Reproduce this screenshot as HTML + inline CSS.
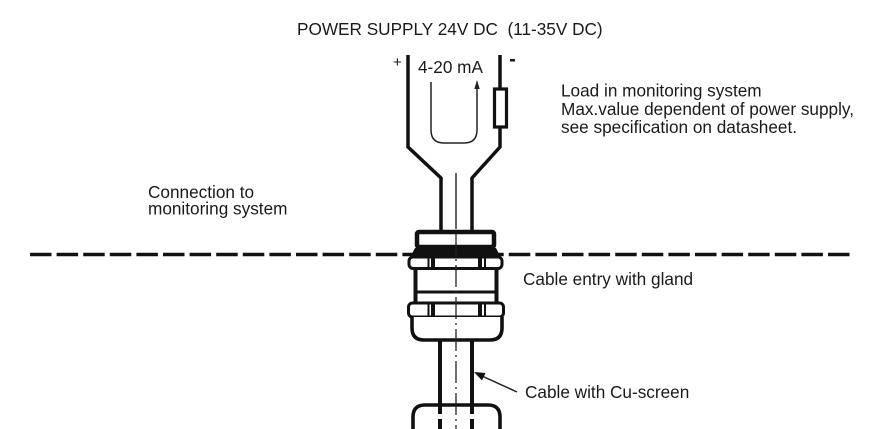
<!DOCTYPE html>
<html>
<head>
<meta charset="utf-8">
<style>
html,body{margin:0;padding:0;background:#fff;}
svg{display:block;}
text{font-family:"Liberation Sans",Arial,sans-serif;fill:#1a1a1a;}
</style>
</head>
<body>
<svg width="875" height="429" viewBox="0 0 875 429" xmlns="http://www.w3.org/2000/svg">
  <rect width="875" height="429" fill="#fff"/>

  <!-- Title -->
  <text x="297" y="35" font-size="17.2">POWER SUPPLY 24V DC &#160;(11-35V DC)</text>

  <!-- + / - -->
  <text x="393" y="67" font-size="15">+</text>
  <rect x="510" y="59" width="5" height="2.5" fill="#1a1a1a"/>

  <!-- 4-20 mA -->
  <text x="418" y="73" font-size="17.2">4-20 mA</text>

  <!-- Wires -->
  <g fill="none" stroke="#111" stroke-width="3.5" stroke-linejoin="miter">
    <path d="M408,55 V147 L441,178 V231"/>
    <path d="M500,55 V89"/>
    <path d="M500,127 V147 L472,178 V231"/>
  </g>
  <!-- Resistor -->
  <rect x="494.5" y="89" width="12" height="38" fill="#fff" stroke="#111" stroke-width="3.2"/>

  <!-- Current loop -->
  <path d="M431,82 V130 Q431,143 444,143 H464 Q477,143 477,130 V87" fill="none" stroke="#222" stroke-width="1.5"/>
  <polygon points="477,80 474.3,89 479.7,89" fill="#222"/>

  <!-- Centre line (upper) -->
  <line x1="456" y1="173" x2="456" y2="229" stroke="#222" stroke-width="1.4"/>

  <!-- Dashed boundary line -->
  <line x1="30" y1="254.5" x2="853" y2="254.5" stroke="#111" stroke-width="3.6" stroke-dasharray="21.5 5.1"/>

  <!-- Labels -->
  <text x="561" y="96.5" font-size="17.2">Load in monitoring system</text>
  <text x="561" y="115" font-size="17.2">Max.value dependent of power supply,</text>
  <text x="561" y="133" font-size="17.2">see specification on datasheet.</text>

  <text x="148" y="198" font-size="17.2">Connection to</text>
  <text x="148" y="214.5" font-size="17.2">monitoring system</text>

  <text x="523" y="285" font-size="17.2">Cable entry with gland</text>
  <text x="525" y="398" font-size="17.2">Cable with Cu-screen</text>

  <!-- Gland -->
  <g stroke="#111" fill="#fff">
    <rect x="415.5" y="266" width="81" height="38" stroke-width="4"/>
    <line x1="415" y1="292" x2="497" y2="292" stroke-width="3"/>
    <rect x="417" y="232" width="77" height="15" rx="2" stroke-width="4.5"/>
    <polygon points="415,248 496,248 501,257.5 410,257.5" fill="#111" stroke="none"/>
    <rect x="409" y="257" width="93" height="11.5" rx="4" stroke-width="3"/>
    <rect x="408.5" y="303" width="95" height="14" rx="4" stroke-width="3"/>
    <path d="M412,317 V328 Q412,340 424,340 H490 Q502,340 502,328 V317" stroke-width="3.6"/>
  </g>
  <g fill="#111">
    <rect x="427.5" y="257" width="2" height="12"/>
    <rect x="431" y="257" width="4" height="12"/>
    <rect x="478" y="257" width="4" height="12"/>
    <rect x="484" y="257" width="2" height="12"/>
    <rect x="427.5" y="303" width="2" height="14"/>
    <rect x="431" y="303" width="4" height="14"/>
    <rect x="478" y="303" width="4" height="14"/>
    <rect x="484" y="303" width="2" height="14"/>
  </g>

  <!-- Cable -->
  <g stroke="#111" stroke-width="4" fill="none">
    <line x1="440" y1="340" x2="440" y2="406"/>
    <line x1="472" y1="340" x2="472" y2="406"/>
  </g>
  <path d="M413,429 V417 Q413,405 425,405 H488 Q500,405 500,417 V429" fill="#fff" stroke="#111" stroke-width="3.6"/>
  <g stroke="#111" stroke-width="4">
    <line x1="440" y1="405" x2="440" y2="414"/>
    <line x1="440" y1="419" x2="440" y2="429"/>
    <line x1="472" y1="405" x2="472" y2="414"/>
    <line x1="472" y1="419" x2="472" y2="429"/>
  </g>

  <!-- Centre line (through gland and cable) -->
  <line x1="456" y1="233" x2="456" y2="429" stroke="#222" stroke-width="1.3" stroke-dasharray="22 4 2 4"/>

  <!-- Arrow to cable -->
  <line x1="517" y1="392" x2="482" y2="376" stroke="#222" stroke-width="1.5"/>
  <polygon points="474,372 485.5,373 482,380.5" fill="#111"/>
</svg>
</body>
</html>
